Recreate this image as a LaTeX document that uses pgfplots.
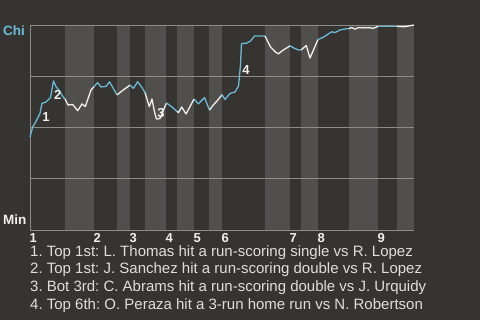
\documentclass[border=0pt]{standalone}
\usepackage{fontspec}
\setmainfont{Liberation Sans}
\usepackage{pgfplots}
\pgfplotsset{compat=1.18}
\definecolor{bg}{RGB}{54,52,49}
\definecolor{band}{RGB}{80,79,77}
\definecolor{gridc}{RGB}{140,140,138}
\definecolor{chiblue}{RGB}{104,186,214}
\definecolor{minwhite}{RGB}{240,240,236}
\definecolor{txt}{RGB}{222,222,220}
\pagecolor{bg}
\frenchspacing
\begin{document}
\begin{tikzpicture}[x=1pt,y=1pt]
\path (0,0) rectangle (480,320);
\begin{axis}[
  set layers,
  at={(30pt,90pt)}, anchor=south west,
  scale only axis, width=384pt, height=205pt,
  xmin=30, xmax=414, ymin=0, ymax=100,
  clip=false,
  axis x line*=bottom, axis y line*=left,
  axis line style={draw=gridc, line width=0.9pt},
  ytick={0,25,50,75,100}, yticklabels={},
  ymajorgrids, grid style={draw=gridc, line width=0.9pt},
  major tick length=0pt,
  xtick={30,94,130,166,194,222,290,318,378},
  xticklabels={1,2,3,4,5,6,7,8,9},
  xticklabel style={anchor=north west, inner sep=0pt, yshift=-3pt, xshift=-0.5pt,
    font=\fontsize{13}{14}\selectfont\bfseries, text=minwhite},
]
\begin{pgfonlayer}{axis background}
\fill[band] (axis cs:65,0) rectangle (axis cs:94,100);
\fill[band] (axis cs:117,0) rectangle (axis cs:130,100);
\fill[band] (axis cs:145,0) rectangle (axis cs:166,100);
\fill[band] (axis cs:177,0) rectangle (axis cs:194,100);
\fill[band] (axis cs:209,0) rectangle (axis cs:222,100);
\fill[band] (axis cs:265,0) rectangle (axis cs:290,100);
\fill[band] (axis cs:301,0) rectangle (axis cs:318,100);
\fill[band] (axis cs:349,0) rectangle (axis cs:378,100);
\fill[band] (axis cs:397,0) rectangle (axis cs:414,100);
\end{pgfonlayer}
\pgfplotsset{every axis plot/.append style={line width=1.3pt, line join=round}}
\addplot[chiblue] coordinates {(30,45.4)(32.7,50.4)(35.3,52.3)(40,56.9)(42,61.8)(46,62.4)(48.7,63.8)(50.5,64.6)(53.5,72.7)(56,69.9)(59.3,68.0)(63,65.0)(65,63.9)};
\addplot[minwhite] coordinates {(65,63.9)(68,61.0)(72.7,61.2)(77.7,58.2)(82,61.5)(85.3,60.2)(91,68.3)(94,69.9)};
\addplot[chiblue] coordinates {(94,69.9)(97.5,71.9)(101,69.8)(106,70.0)(109.5,72.3)(117,65.9)};
\addplot[minwhite] coordinates {(117,65.9)(123.3,68.3)(130,70.7)};
\addplot[chiblue] coordinates {(130,70.7)(133.5,69.1)(137.7,72.3)(142,69.5)(145,67.0)};
\addplot[minwhite] coordinates {(145,67.0)(149.3,60.2)(152,63.9)(154.5,57.6)(156.5,54.1)(160,54.4)(163.3,58.3)(166.5,62.0)};
\addplot[chiblue] coordinates {(166.5,62.0)(172.2,59.9)(177,57.8)};
\addplot[minwhite] coordinates {(177,57.8)(178.5,57.3)(181.7,60.0)(186,56.6)(190,60.2)(194,63.9)};
\addplot[chiblue] coordinates {(194,63.9)(198.3,61.5)(204.5,64.6)(209.5,58.5)};
\addplot[minwhite] coordinates {(209.5,58.5)(213.3,61.0)(217,62.9)(222,66.0)};
\addplot[chiblue] coordinates {(222,66.0)(225,63.7)(230,66.6)(235,67.3)(238.5,70.2)(240.5,80.5)(241.5,91.0)(246.5,91.1)(250.5,92.2)(254.5,94.6)(265,94.6)};
\addplot[minwhite] coordinates {(265,94.6)(270.5,89.3)(275,87.0)(278.3,85.9)(283.3,87.8)(290,89.8)};
\addplot[chiblue] coordinates {(290,89.8)(295,88.5)(298.5,87.8)(301,87.8)};
\addplot[minwhite] coordinates {(301,87.8)(306.3,90.0)(310,83.9)(313.3,87.6)(318,92.9)};
\addplot[chiblue] coordinates {(318,92.9)(323.3,94.0)(331.7,96.7)(335,96.3)(340,97.6)(343.3,97.9)(349,98.3)};
\addplot[minwhite] coordinates {(349,98.3)(351.7,98.7)(355,98.0)(358.3,98.7)(363.3,98.6)(368.3,98.7)(373.3,98.4)(378,99.3)};
\addplot[chiblue] coordinates {(378,99.3)(397,99.3)};
\addplot[minwhite] coordinates {(397,99.3)(401.7,99.2)(405,99.2)(408.3,99.5)(414,100)};
\begin{scope}[every node/.style={font=\fontsize{13}{15}\selectfont\bfseries, text=minwhite, inner sep=0pt}]
\node at (axis cs:46,55.3) {1};
\node at (axis cs:57.7,65.9) {2};
\node at (axis cs:161,57.2) {3};
\node at (axis cs:246,78) {4};
\end{scope}
\end{axis}
\node[anchor=north west, inner sep=0pt, text=chiblue, font=\fontsize{13.5}{15}\selectfont\bfseries] at (3,294) {Chi};
\node[anchor=base west, inner sep=0pt, text=minwhite, font=\fontsize{13.5}{15}\selectfont\bfseries] at (3,95) {Min};
\begin{scope}[every node/.style={anchor=base west, inner sep=0pt, text=txt, font=\fontsize{15}{17}\selectfont}]
\node at (30,63.7) {1. Top 1st: L. Thomas hit a run-scoring single vs R. Lopez};
\node at (30,46.4) {2. Top 1st: J. Sanchez hit a run-scoring double vs R. Lopez};
\node at (30,28.4) {3. Bot 3rd: C. Abrams hit a run-scoring double vs J. Urquidy};
\node at (30,10.4) {4. Top 6th: O. Peraza hit a 3-run home run vs N. Robertson};
\end{scope}
\end{tikzpicture}
\end{document}
